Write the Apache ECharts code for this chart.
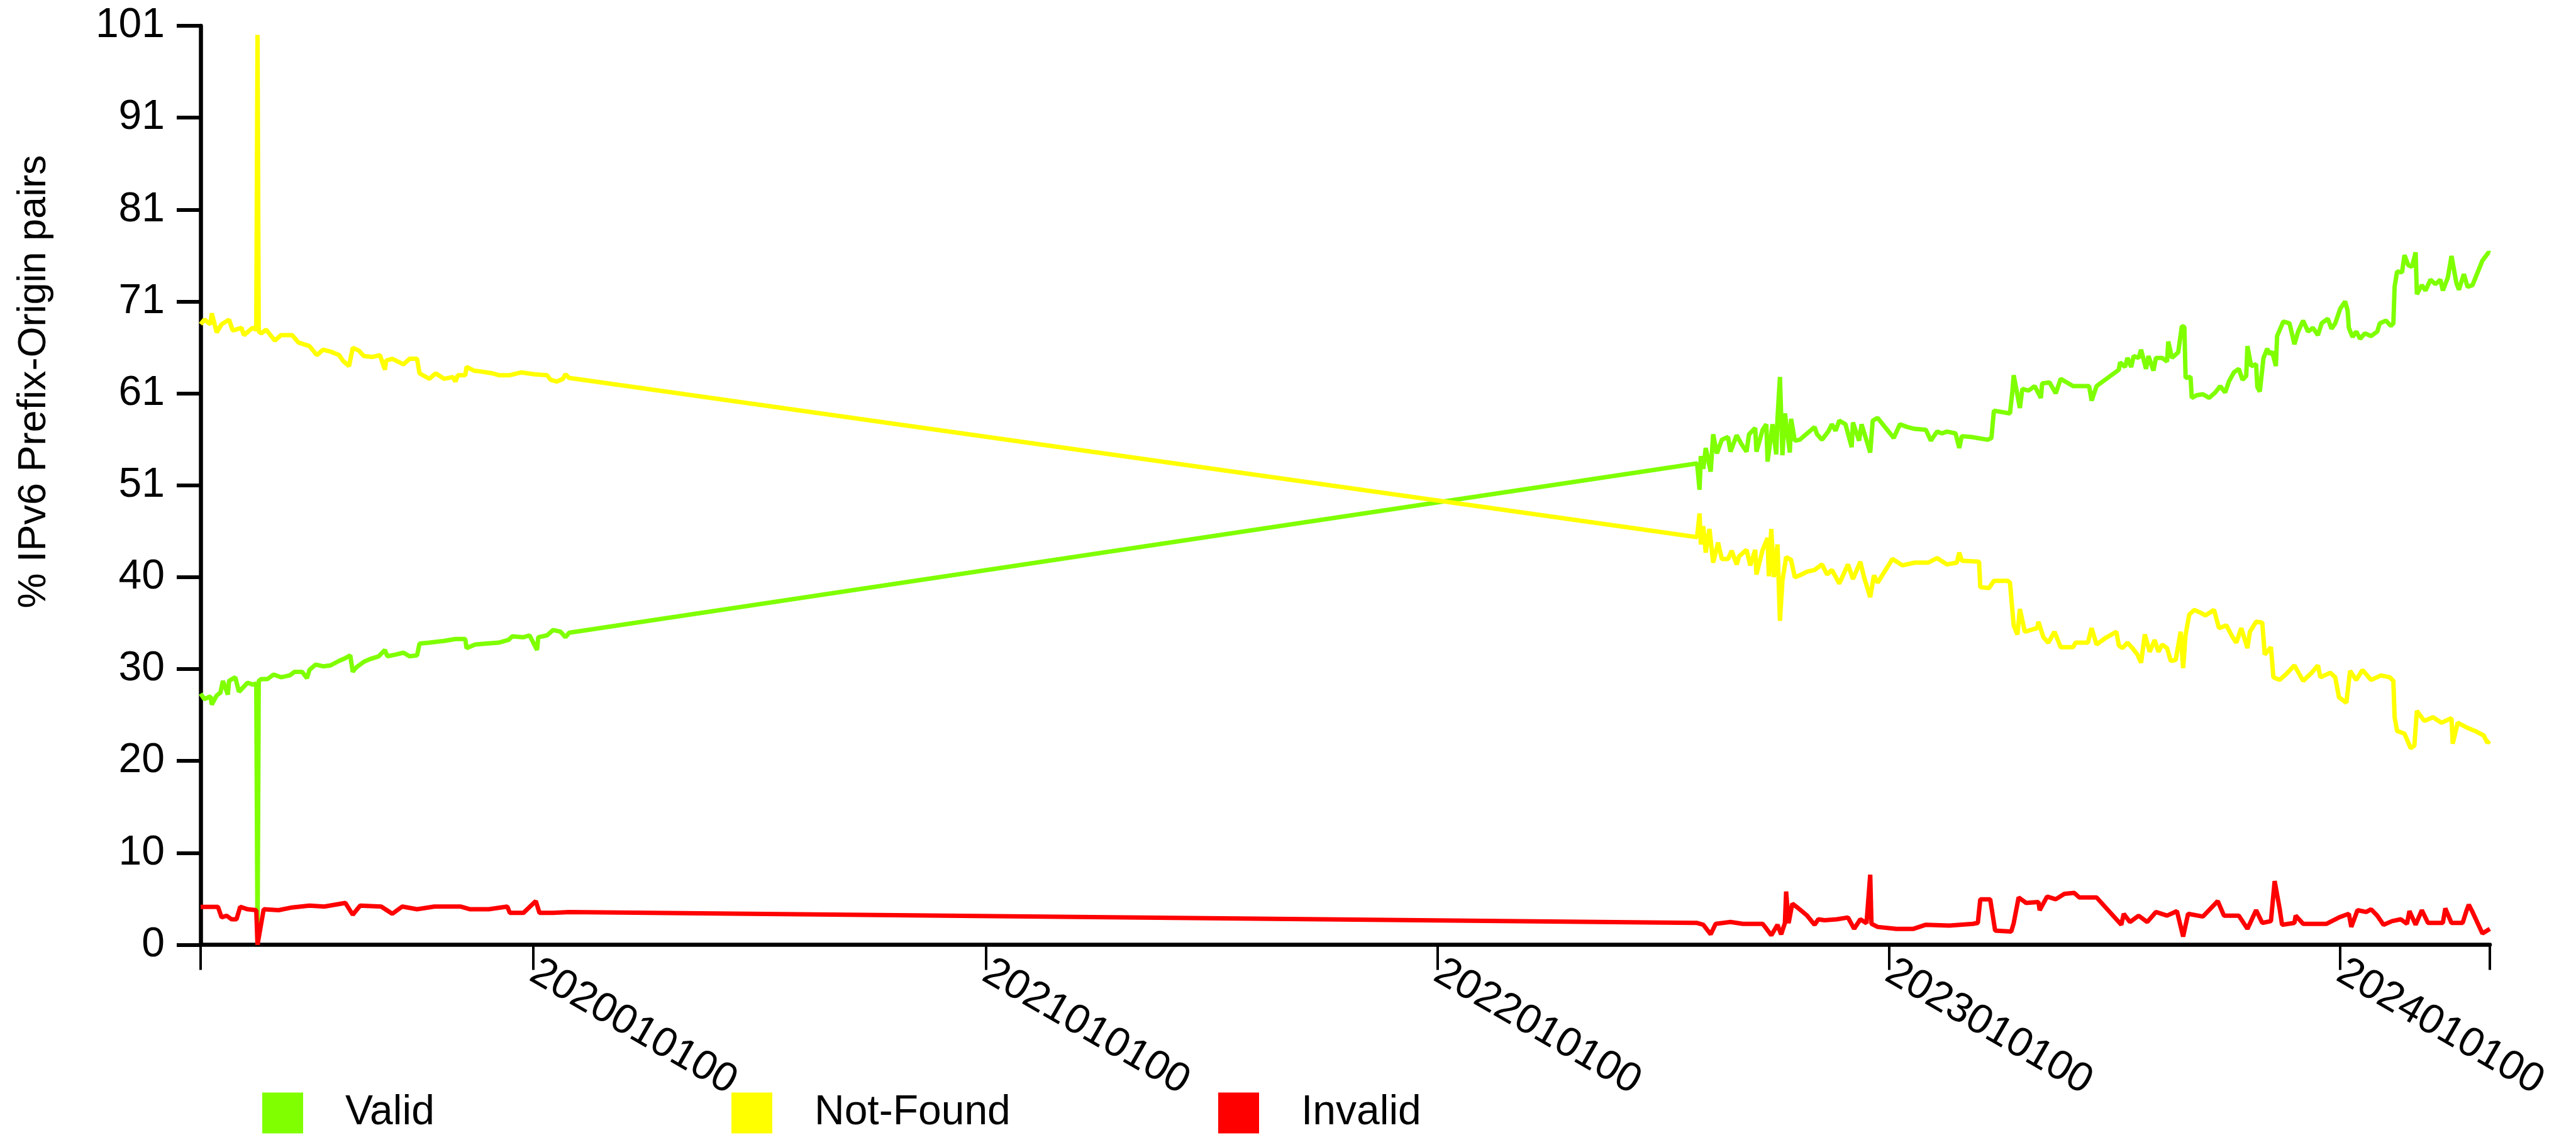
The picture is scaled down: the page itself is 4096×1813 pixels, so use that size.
<!DOCTYPE html>
<html>
<head>
<meta charset="utf-8">
<title>RPKI status of IPv6 prefix-origin pairs</title>
<script src="https://cdn.jsdelivr.net/npm/echarts@6/dist/echarts.min.js"></script>
<style>
  html, body { margin: 0; padding: 0; background: #ffffff; }
  #chart { width: 4096px; height: 1813px; }
</style>
</head>
<body>
<div id="chart"></div>
<script>
// Daily share (%) of IPv6 prefix-origin pairs per RPKI validation state.
const validPoints = [
  ['2019-04-07',27.6],['2019-04-10',27.0],['2019-04-15',27.3],['2019-04-16',26.4],['2019-04-20',27.4],
  ['2019-04-23',27.7],['2019-04-25',29.0],['2019-04-29',27.5],['2019-04-30',29.0],['2019-05-05',29.4],
  ['2019-05-08',27.8],['2019-05-15',28.8],['2019-05-19',28.6],['2019-05-22',28.7],['2019-05-23',0],
  ['2019-05-24',29.0],['2019-05-26',29.2],['2019-05-31',29.2],['2019-06-05',29.7],['2019-06-11',29.4],
  ['2019-06-18',29.6],['2019-06-22',30.0],['2019-06-28',30.0],['2019-07-02',29.3],['2019-07-04',30.2],
  ['2019-07-09',30.8],['2019-07-15',30.6],['2019-07-21',30.7],['2019-07-28',31.2],['2019-08-02',31.5],
  ['2019-08-06',31.8],['2019-08-08',30.0],['2019-08-11',30.5],['2019-08-17',31.1],['2019-08-22',31.4],
  ['2019-08-29',31.7],['2019-09-03',32.4],['2019-09-05',31.7],['2019-09-12',31.9],['2019-09-18',32.1],
  ['2019-09-23',31.7],['2019-09-29',31.8],['2019-10-01',33.1],['2019-10-09',33.2],['2019-10-21',33.4],
  ['2019-10-30',33.6],['2019-11-07',33.6],['2019-11-08',32.6],['2019-11-15',33.0],['2019-11-24',33.1],
  ['2019-12-04',33.2],['2019-12-12',33.5],['2019-12-15',33.9],['2019-12-24',33.8],['2019-12-29',34.0],
  ['2020-01-04',32.4],['2020-01-05',33.8],['2020-01-12',34.0],['2020-01-17',34.6],['2020-01-23',34.4],
  ['2020-01-27',33.8],['2020-01-30',34.3],
  ['2022-07-30',52.9],['2022-08-01',50.0],['2022-08-02',53.7],['2022-08-04',52.3],['2022-08-06',54.6],
  ['2022-08-10',52.0],['2022-08-12',56.1],['2022-08-15',54.0],['2022-08-19',55.5],['2022-08-24',55.8],
  ['2022-08-26',54.2],['2022-08-31',56.0],['2022-09-04',55.0],['2022-09-08',54.2],['2022-09-10',56.1],
  ['2022-09-15',56.8],['2022-09-16',54.2],['2022-09-21',56.6],['2022-09-24',57.2],['2022-09-25',53.1],
  ['2022-09-29',57.2],['2022-10-02',53.9],['2022-10-03',57.8],['2022-10-05',62.4],['2022-10-07',53.8],
  ['2022-10-09',58.4],['2022-10-13',54.1],['2022-10-14',57.8],['2022-10-17',55.4],['2022-10-21',55.5],
  ['2022-11-02',56.9],['2022-11-04',56.1],['2022-11-08',55.5],['2022-11-13',56.4],['2022-11-16',57.2],
  ['2022-11-19',56.5],['2022-11-22',57.6],['2022-11-27',57.2],['2022-12-02',54.7],['2022-12-03',57.4],
  ['2022-12-08',55.4],['2022-12-10',57.2],['2022-12-17',54.1],['2022-12-19',57.6],['2022-12-23',57.9],
  ['2023-01-05',55.7],['2023-01-10',57.2],['2023-01-16',56.9],['2023-01-22',56.7],['2023-01-31',56.6],
  ['2023-02-04',55.4],['2023-02-09',56.4],['2023-02-13',56.2],['2023-02-17',56.4],['2023-02-24',56.2],
  ['2023-02-27',54.6],['2023-03-01',55.9],['2023-03-09',55.8],['2023-03-22',55.5],['2023-03-25',55.7],
  ['2023-03-27',58.7],['2023-04-09',58.4],['2023-04-11',60.9],['2023-04-12',62.6],['2023-04-17',59.0],
  ['2023-04-19',61.1],['2023-04-24',60.9],['2023-04-29',61.4],['2023-05-04',60.1],['2023-05-05',61.7],
  ['2023-05-11',61.8],['2023-05-16',60.6],['2023-05-20',62.2],['2023-05-30',61.4],['2023-06-12',61.4],
  ['2023-06-14',59.8],['2023-06-18',61.4],['2023-07-06',63.2],['2023-07-07',64.0],['2023-07-11',63.5],
  ['2023-07-13',64.5],['2023-07-16',63.5],['2023-07-18',64.7],['2023-07-22',64.5],['2023-07-24',65.4],
  ['2023-07-28',63.3],['2023-07-30',64.7],['2023-08-03',63.1],['2023-08-05',64.5],['2023-08-10',64.5],
  ['2023-08-14',64.1],['2023-08-15',66.3],['2023-08-18',64.5],['2023-08-23',65.1],['2023-08-26',68.0],
  ['2023-08-28',67.9],['2023-08-29',62.3],['2023-09-02',62.4],['2023-09-03',60.1],['2023-09-07',60.4],
  ['2023-09-12',60.5],['2023-09-17',60.1],['2023-09-22',60.7],['2023-09-26',61.4],['2023-09-30',60.7],
  ['2023-10-03',61.9],['2023-10-07',62.9],['2023-10-11',63.3],['2023-10-14',62.1],['2023-10-17',62.5],
  ['2023-10-18',65.8],['2023-10-21',63.6],['2023-10-25',63.8],['2023-10-26',61.3],['2023-10-28',60.8],
  ['2023-10-31',64.5],['2023-11-03',65.5],['2023-11-05',64.9],['2023-11-07',65.2],['2023-11-10',63.6],
  ['2023-11-11',66.9],['2023-11-16',68.5],['2023-11-21',68.3],['2023-11-25',66.0],['2023-11-28',67.4],
  ['2023-12-02',68.6],['2023-12-06',67.4],['2023-12-10',67.8],['2023-12-14',67.0],['2023-12-17',68.3],
  ['2023-12-22',68.8],['2023-12-25',67.7],['2023-12-28',68.3],['2024-01-01',69.9],['2024-01-05',70.7],
  ['2024-01-07',69.7],['2024-01-08',67.8],['2024-01-11',66.8],['2024-01-14',67.4],['2024-01-17',66.6],
  ['2024-01-21',67.2],['2024-01-26',66.9],['2024-01-31',67.4],['2024-02-02',68.3],['2024-02-07',68.6],
  ['2024-02-11',68.0],['2024-02-13',68.3],['2024-02-14',72.3],['2024-02-16',74.0],['2024-02-20',73.9],
  ['2024-02-22',75.8],['2024-02-25',74.7],['2024-02-28',74.5],['2024-03-02',76.1],['2024-03-03',71.5],
  ['2024-03-07',72.5],['2024-03-10',71.9],['2024-03-14',73.1],['2024-03-18',72.6],['2024-03-22',73.1],
  ['2024-03-24',71.9],['2024-03-28',73.3],['2024-03-31',75.7],['2024-04-04',72.7],['2024-04-06',72.0],
  ['2024-04-10',73.7],['2024-04-13',72.3],['2024-04-17',72.5],['2024-04-25',75.2],['2024-04-30',76.1],
  ['2024-05-01',76.0]
];

const notFoundPoints = [
  ['2019-04-07',68.2],['2019-04-10',68.7],['2019-04-15',68.2],['2019-04-16',69.4],['2019-04-20',67.3],
  ['2019-04-24',68.2],['2019-04-30',68.7],['2019-05-03',67.5],['2019-05-10',67.8],['2019-05-12',67.0],
  ['2019-05-19',67.8],['2019-05-22',67.6],['2019-05-23',100],['2019-05-24',67.4],['2019-05-26',67.2],
  ['2019-05-30',67.6],['2019-06-06',66.4],['2019-06-11',67.0],['2019-06-20',67.0],['2019-06-25',66.2],
  ['2019-07-04',65.8],['2019-07-10',64.8],['2019-07-15',65.4],['2019-07-21',65.2],['2019-07-28',64.8],
  ['2019-07-31',64.2],['2019-08-05',63.6],['2019-08-08',65.6],['2019-08-13',65.3],['2019-08-17',64.7],
  ['2019-08-24',64.6],['2019-08-30',64.8],['2019-09-03',63.2],['2019-09-04',64.2],['2019-09-09',64.4],
  ['2019-09-18',63.8],['2019-09-23',64.4],['2019-09-29',64.4],['2019-10-01',62.8],['2019-10-09',62.2],
  ['2019-10-14',62.8],['2019-10-21',62.2],['2019-10-28',62.4],['2019-10-30',61.9],['2019-11-01',62.6],
  ['2019-11-07',62.6],['2019-11-08',63.5],['2019-11-14',63.1],['2019-11-20',63.0],['2019-11-29',62.8],
  ['2019-12-04',62.6],['2019-12-13',62.6],['2019-12-22',62.9],['2020-01-02',62.7],['2020-01-12',62.6],
  ['2020-01-15',62.1],['2020-01-20',61.9],['2020-01-25',62.2],['2020-01-27',62.7],['2020-01-30',62.3],
  ['2022-07-30',44.8],['2022-08-01',47.4],['2022-08-02',44.0],['2022-08-04',46.0],['2022-08-06',43.1],
  ['2022-08-09',45.7],['2022-08-12',42.0],['2022-08-16',44.2],['2022-08-19',42.4],['2022-08-24',42.4],
  ['2022-08-27',43.3],['2022-08-31',41.8],['2022-09-02',42.7],['2022-09-08',43.4],['2022-09-11',41.7],
  ['2022-09-15',43.4],['2022-09-16',40.7],['2022-09-21',43.4],['2022-09-25',44.7],['2022-09-26',40.5],
  ['2022-09-28',45.7],['2022-09-30',40.4],['2022-10-03',44.0],['2022-10-05',35.6],['2022-10-07',40.0],
  ['2022-10-10',42.6],['2022-10-14',42.3],['2022-10-17',40.4],['2022-10-21',40.6],['2022-10-27',41.0],
  ['2022-11-02',41.2],['2022-11-08',41.8],['2022-11-12',40.7],['2022-11-16',41.2],['2022-11-22',39.7],
  ['2022-11-29',41.8],['2022-12-03',40.2],['2022-12-09',42.1],['2022-12-12',40.4],['2022-12-17',38.2],
  ['2022-12-20',40.6],['2022-12-23',39.8],['2023-01-04',42.4],['2023-01-12',41.7],['2023-01-22',42.0],
  ['2023-02-02',42.0],['2023-02-09',42.5],['2023-02-17',41.8],['2023-02-25',42.0],['2023-02-27',43.1],
  ['2023-03-01',42.2],['2023-03-15',42.1],['2023-03-16',39.3],['2023-03-23',39.2],['2023-03-27',40.0],
  ['2023-04-07',40.0],['2023-04-09',39.8],['2023-04-12',35.1],['2023-04-15',34.1],['2023-04-17',36.9],
  ['2023-04-21',34.4],['2023-05-01',34.8],['2023-05-02',35.5],['2023-05-06',33.8],['2023-05-10',33.2],
  ['2023-05-15',34.4],['2023-05-20',32.7],['2023-05-30',32.7],['2023-06-01',33.2],['2023-06-11',33.2],
  ['2023-06-14',34.8],['2023-06-18',33.0],['2023-06-25',33.7],['2023-07-04',34.4],['2023-07-06',32.9],
  ['2023-07-09',32.6],['2023-07-13',33.2],['2023-07-17',32.6],['2023-07-21',31.9],['2023-07-24',31.0],
  ['2023-07-27',34.1],['2023-07-31',32.2],['2023-08-04',33.5],['2023-08-07',32.2],['2023-08-10',33.0],
  ['2023-08-14',32.6],['2023-08-17',31.2],['2023-08-21',31.3],['2023-08-25',34.4],['2023-08-27',30.4],
  ['2023-08-29',34.1],['2023-09-01',36.3],['2023-09-05',36.8],['2023-09-10',36.5],['2023-09-14',36.2],
  ['2023-09-21',36.8],['2023-09-25',34.8],['2023-10-01',35.1],['2023-10-06',33.8],['2023-10-09',33.2],
  ['2023-10-13',34.8],['2023-10-18',32.6],['2023-10-20',34.4],['2023-10-25',35.5],['2023-10-30',35.4],
  ['2023-11-01',31.9],['2023-11-06',32.7],['2023-11-08',29.4],['2023-11-13',29.1],['2023-11-18',29.7],
  ['2023-11-25',30.7],['2023-12-02',29.0],['2023-12-09',29.9],['2023-12-14',30.7],['2023-12-16',29.4],
  ['2023-12-24',29.9],['2023-12-28',29.4],['2023-12-31',27.2],['2024-01-06',26.6],['2024-01-09',30.1],
  ['2024-01-14',29.1],['2024-01-19',30.2],['2024-01-26',29.1],['2024-02-03',29.6],['2024-02-10',29.4],
  ['2024-02-13',29.0],['2024-02-14',25.0],['2024-02-16',23.5],['2024-02-22',23.2],['2024-02-27',21.6],
  ['2024-03-01',21.9],['2024-03-03',25.7],['2024-03-09',24.6],['2024-03-16',25.0],['2024-03-23',24.4],
  ['2024-03-31',24.9],['2024-04-01',22.1],['2024-04-05',24.4],['2024-04-12',23.9],['2024-04-19',23.5],
  ['2024-04-26',23.0],['2024-04-29',22.2],['2024-05-01',22.4]
];

const invalidPoints = [
  ['2019-04-07',4.17],['2019-04-21',4.17],['2019-04-24',3.0],['2019-04-28',3.2],['2019-05-02',2.8],
  ['2019-05-06',2.8],['2019-05-09',4.17],['2019-05-15',3.9],['2019-05-22',3.8],['2019-05-23',0],
  ['2019-05-28',3.9],['2019-06-09',3.8],['2019-06-20',4.1],['2019-07-04',4.3],['2019-07-16',4.2],
  ['2019-08-02',4.6],['2019-08-08',3.3],['2019-08-14',4.3],['2019-08-31',4.2],['2019-09-09',3.4],
  ['2019-09-17',4.2],['2019-09-29',3.9],['2019-10-13',4.2],['2019-11-03',4.2],['2019-11-11',3.9],
  ['2019-11-26',3.9],['2019-12-11',4.2],['2019-12-13',3.5],['2019-12-24',3.5],['2020-01-03',4.8],
  ['2020-01-06',3.5],['2020-01-17',3.5],['2020-01-30',3.6],
  ['2022-07-30',2.4],['2022-08-04',2.2],['2022-08-10',1.15],['2022-08-14',2.3],['2022-08-26',2.5],
  ['2022-09-05',2.3],['2022-09-21',2.3],['2022-09-23',1.96],['2022-09-28',1.04],['2022-10-03',2.2],
  ['2022-10-06',1.15],['2022-10-09',2.37],['2022-10-10',5.85],['2022-10-12',2.37],['2022-10-15',4.52],
  ['2022-10-20',4.0],['2022-10-27',3.2],['2022-11-02',2.2],['2022-11-05',2.8],['2022-11-10',2.7],
  ['2022-11-20',2.8],['2022-11-29',3.0],['2022-12-04',1.75],['2022-12-09',2.8],['2022-12-14',2.37],
  ['2022-12-17',7.7],['2022-12-18',2.3],['2022-12-23',1.96],['2023-01-07',1.75],['2023-01-21',1.75],
  ['2023-01-31',2.2],['2023-02-19',2.1],['2023-03-10',2.3],['2023-03-14',2.4],['2023-03-16',5.0],
  ['2023-03-24',5.0],['2023-03-28',1.55],['2023-04-10',1.45],['2023-04-12',2.37],['2023-04-16',5.2],
  ['2023-04-22',4.6],['2023-05-02',4.7],['2023-05-03',3.8],['2023-05-09',5.3],['2023-05-16',5.0],
  ['2023-05-23',5.6],['2023-05-31',5.7],['2023-06-04',5.2],['2023-06-18',5.2],['2023-07-08',2.2],
  ['2023-07-10',3.4],['2023-07-15',2.5],['2023-07-22',3.2],['2023-07-29',2.5],['2023-08-05',3.6],
  ['2023-08-14',3.2],['2023-08-22',3.7],['2023-08-27',0.9],['2023-08-31',3.4],['2023-09-12',3.1],
  ['2023-09-24',4.8],['2023-09-29',3.2],['2023-10-11',3.2],['2023-10-18',1.75],['2023-10-25',3.8],
  ['2023-10-30',2.4],['2023-11-06',2.6],['2023-11-09',7.0],['2023-11-13',4.0],['2023-11-15',2.2],
  ['2023-11-25',2.4],['2023-11-26',3.2],['2023-12-02',2.3],['2023-12-21',2.3],['2023-12-31',3.0],
  ['2024-01-08',3.4],['2024-01-10',1.96],['2024-01-15',3.8],['2024-01-22',3.6],['2024-01-26',3.9],
  ['2024-01-31',3.2],['2024-02-05',2.2],['2024-02-12',2.6],['2024-02-19',2.8],['2024-02-24',2.3],
  ['2024-02-26',3.7],['2024-03-02',2.2],['2024-03-07',3.8],['2024-03-12',2.4],['2024-03-24',2.4],
  ['2024-03-26',4.0],['2024-03-31',2.4],['2024-04-09',2.4],['2024-04-12',3.7],['2024-04-14',4.4],
  ['2024-04-17',3.6],['2024-04-25',1.25],['2024-05-01',1.75]
];

// Axis extent and labelled dates
const dateRange = ['2019-04-07', '2024-05-01'];
const yearTicks = ['2020-01-01', '2021-01-01', '2022-01-01', '2023-01-01', '2024-01-01'];
const yMax = 101;
const yStep = 10.1;

const seriesNames = ['Valid', 'Not-Found', 'Invalid'];
const seriesColors = ['#7fff00', '#ffff00', '#ff0000'];

const FONT = 'Liberation Sans, Arial, Helvetica, sans-serif';

function toUTC(s) {
  const [y, m, d] = s.split('-').map(Number);
  return Date.UTC(y, m - 1, d);
}
function pad2(n) { return (n < 10 ? '0' : '') + n; }
function stamp(v) {
  const d = new Date(v);
  return d.getUTCFullYear() + pad2(d.getUTCMonth() + 1) + pad2(d.getUTCDate()) + '00';
}

const xMin = toUTC(dateRange[0]);
const xMax = toUTC(dateRange[1]);
const yearValues = yearTicks.map(toUTC);

const seriesData = [validPoints, notFoundPoints, invalidPoints];

const chart = echarts.init(document.getElementById('chart'), null, { renderer: 'canvas' });

function legendFor(i, left) {
  return {
    data: [seriesNames[i]],
    left: left,
    top: 1737,
    orient: 'horizontal',
    padding: 0,
    icon: 'rect',
    itemWidth: 65,
    itemHeight: 65,
    selectedMode: false,
    itemStyle: { borderWidth: 0 },
    textStyle: {
      fontFamily: FONT,
      fontSize: 66,
      color: '#000000',
      padding: [50, 0, 0, 62]
    }
  };
}

chart.setOption({
  animation: false,
  backgroundColor: '#ffffff',
  textStyle: { fontFamily: FONT },
  grid: {
    left: 319,
    top: 41,
    right: 137,
    bottom: 310.5,
    containLabel: false,
    outerBoundsMode: 'none'
  },
  legend: [legendFor(0, 417), legendFor(1, 1163), legendFor(2, 1937)],
  xAxis: {
    // dates are millisecond timestamps on a linear scale
    type: 'value',
    min: xMin,
    max: xMax,
    scale: true,
    splitLine: { show: false },
    axisLine: { show: true, onZero: false, lineStyle: { color: '#000000', width: 6.5 } },
    axisTick: {
      show: true,
      length: 40,
      customValues: [xMin].concat(yearValues, [xMax]),
      lineStyle: { color: '#000000', width: 4 }
    },
    axisLabel: {
      show: true,
      rotate: -30,
      margin: 39,
      fontSize: 66,
      fontFamily: FONT,
      color: '#000000',
      customValues: yearValues,
      formatter: function (v) { return stamp(v); }
    }
  },
  yAxis: {
    type: 'value',
    min: 0,
    max: yMax,
    interval: yStep,
    splitLine: { show: false },
    axisLine: { show: true, lineStyle: { color: '#000000', width: 6.5 } },
    axisTick: { show: true, length: 38, lineStyle: { color: '#000000', width: 6 } },
    axisLabel: {
      margin: 57,
      fontSize: 66,
      fontFamily: FONT,
      color: '#000000',
      formatter: function (v) { return String(Math.round(v + 1e-9)); }
    }
  },
  graphic: [{
    type: 'text',
    x: 55,
    y: 607,
    rotation: Math.PI / 2,
    style: {
      text: '% IPv6 Prefix-Origin pairs',
      font: '63px ' + FONT,
      fill: '#000000',
      align: 'center',
      verticalAlign: 'middle'
    }
  }],
  series: seriesNames.map(function (name, i) {
    return {
      name: name,
      type: 'line',
      showSymbol: false,
      symbol: 'none',
      clip: true,
      color: seriesColors[i],
      itemStyle: { color: seriesColors[i] },
      lineStyle: { color: seriesColors[i], width: 7 },
      emphasis: { disabled: true },
      z: 2 + i,
      data: seriesData[i].map(function (p) { return [toUTC(p[0]), p[1]]; })
    };
  })
});
</script>
</body>
</html>
